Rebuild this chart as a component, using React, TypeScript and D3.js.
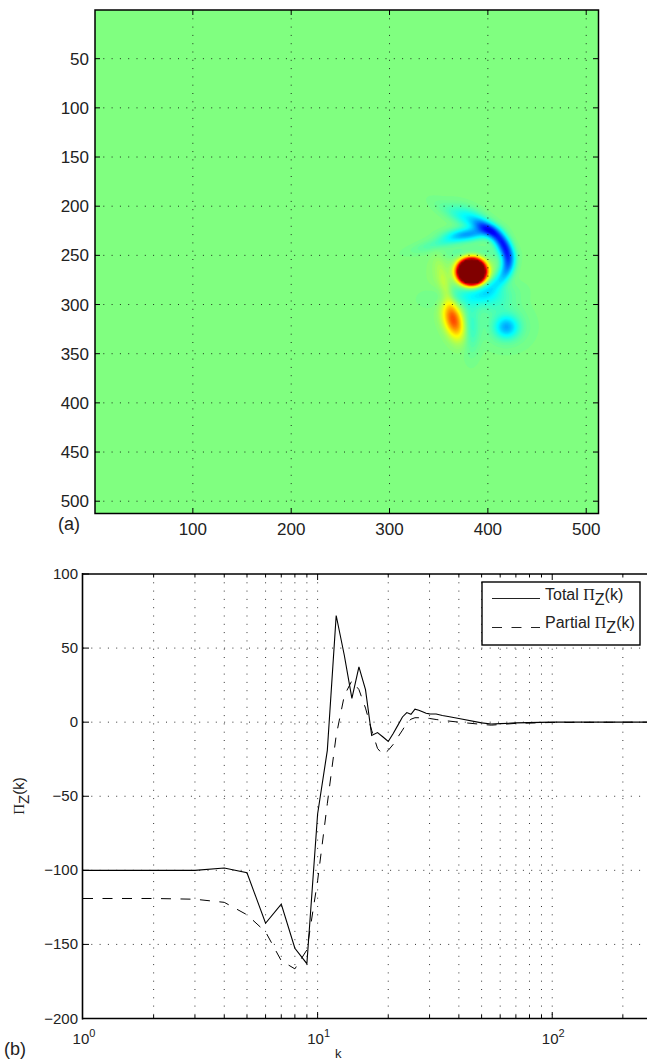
import React, { useEffect, useRef } from "react";
import * as d3 from "d3";

const mapXTicks = [100, 200, 300, 400, 500];
const mapYTicks = [50, 100, 150, 200, 250, 300, 350, 400, 450, 500];

// vortex features: x, y, sigma along, sigma across, angle, strength
const vortexX = [383.5, 365, 358, 419, 419, 394, 404.5, 413.6, 418.7, 420.7, 417.7, 409.5, 399, 379, 358, 384, 366, 384, 403, 383, 383, 350];
const vortexY = [266.5, 316, 287, 323, 323, 220, 226, 235.5, 245.7, 256, 267, 277, 286, 228.5, 235.5, 213, 208, 290, 295, 323, 248, 269];
const vortexLong = [7.4, 13, 20, 8, 16, 7.5, 7.5, 7.5, 7.5, 7.5, 7.5, 7.5, 8, 15, 22, 14, 16, 24, 16, 18, 20, 18];
const vortexWide = [6.8, 6.6, 4, 7.5, 14, 4.4, 4.6, 4.8, 4.8, 4.6, 4.6, 4.8, 5.5, 4.5, 4, 6.5, 5, 8, 10, 6, 5, 8];
const vortexAngle = [0, 72, 75, 0, 0, 30, 40, 55, 70, 90, 110, 135, 150, -5, -15, 30, 30, -5, 20, 90, 0, 90];
const vortexAmp = [5.7, 0.58, 0.12, -0.34, -0.08, -0.3, -0.46, -0.48, -0.42, -0.38, -0.3, -0.18, -0.08, -0.36, -0.13, -0.24, -0.08, -0.18, -0.1, -0.15, -0.09, 0.035];

const jetStops = [-1, -0.75, -0.25, 0.25, 0.75, 1];
const jetColors = ["#00008f", "#0000ff", "#00ffff", "#ffff00", "#ff0000", "#800000"];

const spectrumXTicks = [1, 10, 100];
const spectrumXMinor = [2, 3, 4, 5, 6, 7, 8, 9, 20, 30, 40, 50, 60, 70, 80, 90, 200];
const spectrumYTicks = [100, 50, 0, -50, -100, -150, -200];

const wave = [1, 2, 3, 4, 5, 6, 7, 8, 9, 10, 11, 12, 13, 14, 15, 16, 17, 18, 19, 20, 21, 22, 23, 24, 25, 26, 27, 28, 29, 30, 32, 34, 36, 40, 50, 55, 60, 70, 100, 256];
const totalFlux = [-100, -100, -100, -98.4, -101.6, -135.7, -122.8, -152.6, -163, -62, -19, 72, 45, 16, 37.3, 22, -9, -7, -10, -13, -7.6, -2, 3.5, 6.5, 5.3, 8.8, 8, 7, 6, 5.6, 5.5, 4.5, 3.8, 2.5, -0.5, -1.2, -1, -0.5, 0, 0];
const partialFlux = [-119, -119, -119.5, -121.6, -130, -141.5, -161, -166.5, -153.7, -107, -55, -9, 18, 28, 22, 9.5, -5.5, -17.7, -22, -19, -15, -10, -5.4, -0.5, 2, 3, 3, 3, 2.8, 2.5, 1.8, 1.2, 0.8, 0, -1.5, -2, -1.6, -0.8, -0.2, 0];

const sans = "'Liberation Sans', Arial, sans-serif";
const serif = "'Liberation Serif', serif";
const ink = "#222";

export default function App() {
  const ref = useRef<SVGSVGElement>(null);

  useEffect(() => {
    const svg = d3.select(ref.current);
    svg.selectAll("*").remove();

    // ---- panel (a)
    const ax = d3.scaleLinear().domain([0.5, 512.5]).range([95, 598.5]);
    const ay = d3.scaleLinear().domain([0.5, 512.5]).range([10, 513.5]);
    const jet = d3.scaleLinear<string>().domain(jetStops).range(jetColors).clamp(true);

    const n = 256;
    const step = 512 / n;
    const field = new Array(n * n);
    for (let j = 0; j < n; j++) {
      for (let i = 0; i < n; i++) {
        const px = 0.5 + (i + 0.5) * step;
        const py = 0.5 + (j + 0.5) * step;
        let v = 0;
        vortexX.forEach((cx, b) => {
          const a = (vortexAngle[b] * Math.PI) / 180;
          const dx = px - cx;
          const dy = py - vortexY[b];
          const u = (dx * Math.cos(a) + dy * Math.sin(a)) / vortexLong[b];
          const w = (-dx * Math.sin(a) + dy * Math.cos(a)) / vortexWide[b];
          v += vortexAmp[b] * Math.exp(-(u * u + w * w) / 2);
        });
        field[j * n + i] = Math.max(-1, Math.min(1, v));
      }
    }

    const levels = d3.range(-50, 51).map((d) => d / 50);
    const contours = d3.contours().size([n, n]).smooth(true).thresholds(levels.map((d) => d - 0.01))(field);
    const toScreen = d3.geoTransform({
      point(x: number, y: number) {
        this.stream.point(ax(0.5 + x * step), ay(0.5 + y * step));
      },
    });
    const contourPath = d3.geoPath(toScreen);

    const clip = svg.append("defs").append("clipPath").attr("id", "map-clip");
    clip.append("rect").attr("x", 95).attr("y", 10).attr("width", 503.5).attr("height", 503.5);

    const map = svg.append("g").attr("clip-path", "url(#map-clip)");
    map.append("rect").attr("x", 95).attr("y", 10).attr("width", 503.5).attr("height", 503.5).attr("fill", jet(0));
    map
      .selectAll("path")
      .data(contours)
      .join("path")
      .attr("d", (d) => contourPath(d))
      .attr("fill", (d, i) => jet(levels[i]));

    const gridA = svg.append("g").attr("stroke", "#000").attr("stroke-opacity", 0.8).attr("stroke-dasharray", "1 7.3");
    mapXTicks.forEach((t) => {
      gridA.append("line").attr("x1", ax(t)).attr("x2", ax(t)).attr("y1", 10).attr("y2", 513.5);
    });
    mapYTicks.forEach((t) => {
      gridA.append("line").attr("y1", ay(t)).attr("y2", ay(t)).attr("x1", 95).attr("x2", 598.5);
    });

    const axisA = svg.append("g").attr("font-family", sans).attr("font-size", 17).attr("fill", ink);
    mapXTicks.forEach((t) => {
      axisA.append("text").attr("x", ax(t)).attr("y", 535).attr("text-anchor", "middle").text(t);
      svg.append("line").attr("x1", ax(t)).attr("x2", ax(t)).attr("y1", 513.5).attr("y2", 508.5).attr("stroke", "#000");
      svg.append("line").attr("x1", ax(t)).attr("x2", ax(t)).attr("y1", 10).attr("y2", 15).attr("stroke", "#000");
    });
    mapYTicks.forEach((t) => {
      axisA.append("text").attr("x", 89).attr("y", ay(t) + 6).attr("text-anchor", "end").text(t);
      svg.append("line").attr("x1", 95).attr("x2", 100).attr("y1", ay(t)).attr("y2", ay(t)).attr("stroke", "#000");
      svg.append("line").attr("x1", 598.5).attr("x2", 593.5).attr("y1", ay(t)).attr("y2", ay(t)).attr("stroke", "#000");
    });
    svg.append("rect").attr("x", 95).attr("y", 10).attr("width", 503.5).attr("height", 503.5)
      .attr("fill", "none").attr("stroke", "#000").attr("stroke-width", 1.5);
    svg.append("text").attr("x", 58).attr("y", 530).attr("font-family", sans).attr("font-size", 18).attr("fill", ink).text("(a)");

    // ---- panel (b)
    const bx = d3.scaleLog().domain([1, 256]).range([83, 648]);
    const by = d3.scaleLinear().domain([-200, 100]).range([1018.5, 574]);

    const gridB = svg.append("g").attr("stroke", "#000").attr("stroke-opacity", 0.8).attr("stroke-dasharray", "1 7.3");
    [...spectrumXMinor, 10, 100].forEach((t) => {
      gridB.append("line").attr("x1", bx(t)).attr("x2", bx(t)).attr("y1", 574).attr("y2", 1018.5);
    });
    [50, 0, -50, -100, -150].forEach((t) => {
      gridB.append("line").attr("y1", by(t)).attr("y2", by(t)).attr("x1", 83).attr("x2", 647);
    });

    const flux = d3.line<number>().x((d, i) => bx(wave[i])).y((d) => by(d));
    svg.append("path").attr("d", flux(partialFlux)).attr("fill", "none").attr("stroke", "#000").attr("stroke-width", 1).attr("stroke-dasharray", "10 9.5");
    svg.append("path").attr("d", flux(totalFlux)).attr("fill", "none").attr("stroke", "#000").attr("stroke-width", 1.1);

    const frame = svg.append("g").attr("stroke", "#000");
    frame.append("line").attr("x1", 82.5).attr("x2", 82.5).attr("y1", 573).attr("y2", 1019.5).attr("stroke-width", 1.6);
    frame.append("line").attr("x1", 82).attr("x2", 647).attr("y1", 574).attr("y2", 574).attr("stroke-width", 1.6);
    frame.append("line").attr("x1", 82).attr("x2", 647).attr("y1", 1018.5).attr("y2", 1018.5).attr("stroke-width", 1.6);
    spectrumXMinor.forEach((t) => {
      frame.append("line").attr("x1", bx(t)).attr("x2", bx(t)).attr("y1", 1018.5).attr("y2", 1015);
      frame.append("line").attr("x1", bx(t)).attr("x2", bx(t)).attr("y1", 574).attr("y2", 577.5);
    });
    [10, 100].forEach((t) => {
      frame.append("line").attr("x1", bx(t)).attr("x2", bx(t)).attr("y1", 1018.5).attr("y2", 1012);
      frame.append("line").attr("x1", bx(t)).attr("x2", bx(t)).attr("y1", 574).attr("y2", 580);
    });

    const axisB = svg.append("g").attr("font-family", sans).attr("font-size", 15).attr("fill", ink);
    spectrumYTicks.forEach((t) => {
      frame.append("line").attr("x1", 83).attr("x2", 89).attr("y1", by(t)).attr("y2", by(t));
      axisB.append("text").attr("x", 78).attr("y", by(t) + 5).attr("text-anchor", "end").text(String(t).replace("-", "\u2212"));
    });
    spectrumXTicks.forEach((t) => {
      const label = axisB.append("text").attr("x", bx(t) + 1).attr("y", 1044).attr("text-anchor", "middle");
      label.append("tspan").text("10");
      label.append("tspan").attr("font-size", 11).attr("dy", -7).text(Math.log10(t));
    });
    axisB.append("text").attr("x", 335).attr("y", 1058).attr("font-size", 13).text("k");
    svg.append("text").attr("x", 4).attr("y", 1055).attr("font-family", sans).attr("font-size", 18).attr("fill", ink).text("(b)");

    const fluxLabel = (prefix: string, size: number) => {
      const t = svg.append("text").attr("font-family", sans).attr("font-size", size).attr("fill", ink);
      if (prefix) t.append("tspan").text(prefix);
      t.append("tspan").attr("font-family", serif).text("\u03A0");
      t.append("tspan").attr("dy", 5).text("Z");
      t.append("tspan").attr("dy", -5).text("(k)");
      return t;
    };
    fluxLabel("", 15).attr("transform", "translate(24,796) rotate(-90)").attr("text-anchor", "middle");

    // legend
    svg.append("rect").attr("x", 482).attr("y", 582).attr("width", 158).attr("height", 63)
      .attr("fill", "#fff").attr("stroke", "#000").attr("stroke-width", 1.4);
    svg.append("line").attr("x1", 492).attr("x2", 540).attr("y1", 598.5).attr("y2", 598.5).attr("stroke", "#222");
    svg.append("line").attr("x1", 492).attr("x2", 540).attr("y1", 627.5).attr("y2", 627.5).attr("stroke", "#222").attr("stroke-dasharray", "10 9.5");
    fluxLabel("Total ", 16).attr("x", 545).attr("y", 600);
    fluxLabel("Partial ", 16).attr("x", 545).attr("y", 628);
  }, []);

  return <svg ref={ref} width={647} height={1061} style={{ position: "absolute", left: 0, top: 0, background: "#fff" }} />;
}
